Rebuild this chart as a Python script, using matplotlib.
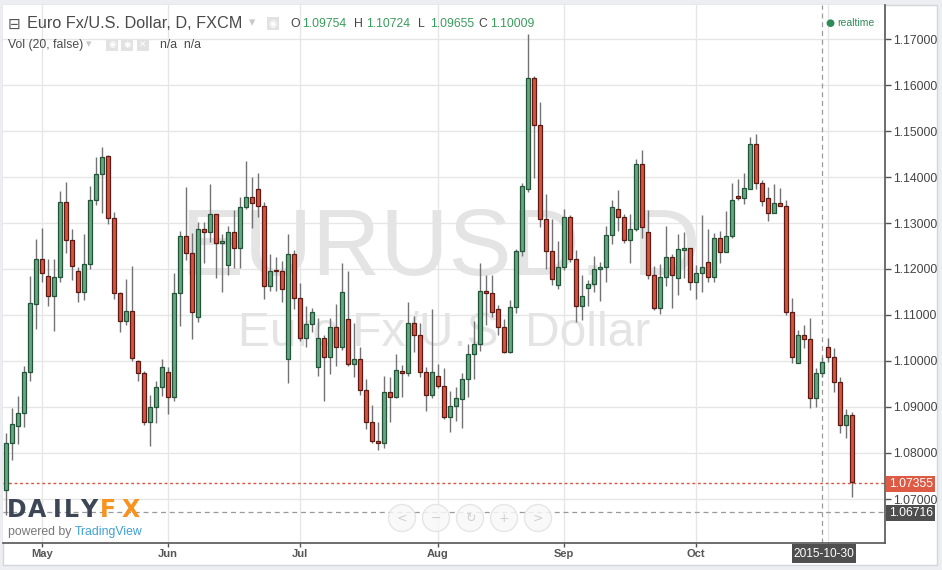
import numpy as np
import pandas as pd
import matplotlib.pyplot as plt
from matplotlib.patches import Rectangle, Ellipse

# daily EUR/USD candles, 2015-04-23 .. 2015-11-06
opens = [1.0720, 1.0821, 1.0859, 1.0886, 1.0977, 1.1125, 1.1221, 1.1185, 1.1142, 1.1182,
         1.1345, 1.1262, 1.1196, 1.1151, 1.1210, 1.1351, 1.1407, 1.1446, 1.1310, 1.1147,
         1.1088, 1.1108, 1.0999, 1.0975, 1.0867, 1.0899, 1.0943, 1.0975, 1.0921, 1.1147,
         1.1272, 1.1234, 1.1095, 1.1288, 1.1280, 1.1319, 1.1256, 1.1209, 1.1280, 1.1245,
         1.1334, 1.1356, 1.1373, 1.1336, 1.1164, 1.1197, 1.1196, 1.1004, 1.1232, 1.1138,
         1.1049, 1.1080, 1.0986, 1.1051, 1.1008, 1.1073, 1.1030, 1.1091, 1.0993, 1.1004,
         1.0938, 1.0867, 1.0826, 1.0821, 1.0932, 1.0922, 1.0979, 1.0975, 1.1082, 1.1057,
         1.0977, 1.0926, 1.0968, 1.0946, 1.0878, 1.0902, 1.0918, 1.0960, 1.1015, 1.1038,
         1.1152, 1.1147, 1.1112, 1.1073, 1.1020, 1.1117, 1.1239, 1.1375, 1.1615, 1.1512,
         1.1308, 1.1240, 1.1165, 1.1205, 1.1312, 1.1221, 1.1120, 1.1158, 1.1167, 1.1199,
         1.1204, 1.1275, 1.1330, 1.1314, 1.1264, 1.1286, 1.1428, 1.1280, 1.1186, 1.1116,
         1.1182, 1.1227, 1.1180, 1.1242, 1.1245, 1.1172, 1.1191, 1.1215, 1.1183, 1.1267,
         1.1236, 1.1272, 1.1358, 1.1355, 1.1375, 1.1471, 1.1386, 1.1354, 1.1321, 1.1343,
         1.1337, 1.1106, 1.0996, 1.1057, 1.1047, 1.0919, 1.0973, 1.1031, 1.1009, 1.0955,
         1.0861, 1.0883]
highs = [1.0844, 1.0897, 1.0924, 1.0989, 1.1185, 1.1265, 1.1289, 1.1222, 1.1222, 1.1370,
         1.1389, 1.1287, 1.1205, 1.1276, 1.1380, 1.1443, 1.1465, 1.1448, 1.1323, 1.1151,
         1.1178, 1.1207, 1.1002, 1.0979, 1.0926, 1.0957, 1.1004, 1.0986, 1.1192, 1.1283,
         1.1378, 1.1278, 1.1303, 1.1303, 1.1385, 1.1319, 1.1276, 1.1294, 1.1328, 1.1356,
         1.1435, 1.1399, 1.1409, 1.1345, 1.1233, 1.1227, 1.1217, 1.1276, 1.1241, 1.1170,
         1.1120, 1.1115, 1.1093, 1.1057, 1.1093, 1.1124, 1.1212, 1.1196, 1.1082, 1.1031,
         1.0960, 1.0904, 1.0868, 1.0967, 1.0966, 1.1015, 1.0991, 1.1129, 1.1098, 1.1082,
         1.0988, 1.1112, 1.0993, 1.0984, 1.0935, 1.0943, 1.0975, 1.1038, 1.1087, 1.1214,
         1.1187, 1.1187, 1.1122, 1.1091, 1.1133, 1.1243, 1.1386, 1.1710, 1.1620, 1.1562,
         1.1363, 1.1309, 1.1261, 1.1330, 1.1317, 1.1241, 1.1187, 1.1176, 1.1228, 1.1216,
         1.1294, 1.1350, 1.1372, 1.1320, 1.1320, 1.1439, 1.1459, 1.1328, 1.1207, 1.1211,
         1.1293, 1.1232, 1.1276, 1.1280, 1.1245, 1.1209, 1.1317, 1.1287, 1.1279, 1.1283,
         1.1326, 1.1386, 1.1396, 1.1409, 1.1486, 1.1493, 1.1393, 1.1378, 1.1385, 1.1377,
         1.1350, 1.1136, 1.1067, 1.1078, 1.1093, 1.0984, 1.1009, 1.1049, 1.1028, 1.0966,
         1.0895, 1.0890]
lows = [1.0665, 1.0785, 1.0819, 1.0857, 1.0957, 1.1070, 1.1172, 1.1120, 1.1066, 1.1172,
        1.1235, 1.1176, 1.1129, 1.1133, 1.1200, 1.1339, 1.1322, 1.1298, 1.1134, 1.1062,
        1.1078, 1.1001, 1.0957, 1.0861, 1.0816, 1.0865, 1.0924, 1.0885, 1.0914, 1.1077,
        1.1220, 1.1048, 1.1084, 1.1212, 1.1259, 1.1181, 1.1151, 1.1187, 1.1203, 1.1203,
        1.1330, 1.1290, 1.1312, 1.1134, 1.1153, 1.1153, 1.1129, 1.0953, 1.1112, 1.1044,
        1.1031, 1.1064, 1.0967, 1.0914, 1.0972, 1.0989, 1.1025, 1.0989, 1.0965, 1.0926,
        1.0852, 1.0821, 1.0807, 1.0810, 1.0868, 1.0919, 1.0922, 1.0967, 1.1020, 1.0966,
        1.0892, 1.0919, 1.0941, 1.0873, 1.0846, 1.0870, 1.0854, 1.0922, 1.0960, 1.1022,
        1.1078, 1.1096, 1.1057, 1.1017, 1.1017, 1.1105, 1.1228, 1.1368, 1.1397, 1.1291,
        1.1200, 1.1165, 1.1156, 1.1198, 1.1216, 1.1085, 1.1089, 1.1120, 1.1151, 1.1131,
        1.1171, 1.1254, 1.1283, 1.1256, 1.1214, 1.1283, 1.1268, 1.1178, 1.1111, 1.1102,
        1.1163, 1.1115, 1.1143, 1.1180, 1.1154, 1.1135, 1.1151, 1.1172, 1.1172, 1.1212,
        1.1236, 1.1268, 1.1351, 1.1341, 1.1373, 1.1373, 1.1336, 1.1305, 1.1321, 1.1336,
        1.1100, 1.0996, 1.0996, 1.1028, 1.0897, 1.0901, 1.0966, 1.0998, 1.0933, 1.0843,
        1.0832, 1.0705]
closes = [1.0821, 1.0862, 1.0886, 1.0977, 1.1125, 1.1221, 1.1191, 1.1142, 1.1182, 1.1345,
          1.1262, 1.1207, 1.1151, 1.1210, 1.1351, 1.1407, 1.1443, 1.1310, 1.1147, 1.1088,
          1.1108, 1.1006, 1.0975, 1.0867, 1.0899, 1.0943, 1.0988, 1.0921, 1.1147, 1.1272,
          1.1234, 1.1106, 1.1288, 1.1280, 1.1319, 1.1256, 1.1260, 1.1280, 1.1245, 1.1334,
          1.1356, 1.1343, 1.1336, 1.1164, 1.1196, 1.1195, 1.1156, 1.1232, 1.1138, 1.1049,
          1.1080, 1.1106, 1.1051, 1.1008, 1.1073, 1.1030, 1.1151, 1.0993, 1.1004, 1.0938,
          1.0867, 1.0826, 1.0821, 1.0932, 1.0922, 1.0980, 1.0973, 1.1082, 1.1057, 1.0977,
          1.0926, 1.0977, 1.0946, 1.0878, 1.0902, 1.0919, 1.0960, 1.1015, 1.1038, 1.1152,
          1.1147, 1.1106, 1.1073, 1.1020, 1.1117, 1.1239, 1.1380, 1.1615, 1.1512, 1.1308,
          1.1240, 1.1178, 1.1205, 1.1312, 1.1221, 1.1120, 1.1142, 1.1167, 1.1199, 1.1204,
          1.1275, 1.1334, 1.1314, 1.1264, 1.1286, 1.1428, 1.1292, 1.1186, 1.1116, 1.1182,
          1.1227, 1.1188, 1.1243, 1.1245, 1.1172, 1.1191, 1.1204, 1.1183, 1.1267, 1.1236,
          1.1272, 1.1351, 1.1355, 1.1375, 1.1471, 1.1386, 1.1348, 1.1321, 1.1343, 1.1336,
          1.1106, 1.1009, 1.1057, 1.1047, 1.0919, 1.0973, 1.0998, 1.1009, 1.0955, 1.0861,
          1.0883, 1.0736]

price_ticks = [1.07, 1.08, 1.09, 1.10, 1.11, 1.12, 1.13, 1.14, 1.15, 1.16, 1.17]
last_price = 1.07355
cross_price = 1.06716
cross_date = '2015-10-30'
ohlc_header = ['1.09754', '1.10724', '1.09655', '1.10009']

dates = pd.bdate_range('2015-04-23', periods=len(opens))
o = np.array(opens); h = np.array(highs); l = np.array(lows); c = np.array(closes)
x = np.arange(len(o))
up = c >= o

W, H = 942, 570
fig = plt.figure(figsize=(W / 100, H / 100), dpi=100, facecolor='#eceef1')
plt.rcParams['font.family'] = ['Liberation Sans', 'DejaVu Sans']


def fx(px):
    return px / W


def fy(py):
    return 1 - py / H


fig.add_artist(Rectangle((fx(3), fy(565)), fx(934), 560 / H, transform=fig.transFigure,
                         facecolor='white', edgecolor='#d3d6db', lw=1, zorder=-5))

ax = fig.add_axes([fx(3), fy(543), fx(882), 538 / H])
ax.set_facecolor('white')
ax.set_axisbelow(True)

# y scale: 1.07 at y=499 px, 46 px per 0.01
ax.set_ylim(1.07 + (499 - 543) / 4600, 1.07 + (499 - 5) / 4600)
ax.set_xlim(-0.5, 146.5)

# candles
wick_col = '#737375'
ax.vlines(x, l, h, color=wick_col, lw=1, zorder=2)
body_lo = np.minimum(o, c)
body_h = np.maximum(np.abs(c - o), 0.00004)
ax.bar(x[up], body_h[up], bottom=body_lo[up], width=0.72, color='#6ba583',
       edgecolor='#225437', lw=0.9, zorder=3)
ax.bar(x[~up], body_h[~up], bottom=body_lo[~up], width=0.72, color='#d75442',
       edgecolor='#5b1a13', lw=0.9, zorder=3)

# month ticks at first trading day (Nov label sits under the date box)
month_pos, month_lab = [], []
for m in range(5, 12):
    idx = np.where(dates.month == m)[0]
    if len(idx):
        month_pos.append(idx[0])
        month_lab.append(dates[idx[0]].strftime('%b') if m < 11 else '')
ax.set_xticks(month_pos)
ax.set_xticklabels(month_lab, fontsize=8, fontweight='bold', color='#555555')
ax.set_yticks(price_ticks)
ax.set_yticklabels([f'{p:.5f}' for p in price_ticks], fontsize=8.8, color='#444444')
ax.yaxis.tick_right()
ax.tick_params(axis='y', direction='out', length=4, width=1, color='#555555', pad=1.5)
ax.tick_params(axis='x', direction='out', length=3, width=1, color='#555555', pad=1)
ax.grid(True, color='#e6e6e6', lw=1)
for s in ['top', 'left']:
    ax.spines[s].set_visible(False)
for s in ['right', 'bottom']:
    ax.spines[s].set_color('#555555')
    ax.spines[s].set_linewidth(1.2)

# price lines and crosshair
ax.axhline(last_price, color='#d9533f', lw=1, ls=(0, (2, 2)), zorder=1.5)
ax.axhline(cross_price, color='#9a9a9a', lw=0.9, ls=(0, (4, 3)), zorder=1.5)
cross_x = int(np.where(dates == pd.Timestamp(cross_date))[0][0])
ax.axvline(cross_x, color='#9a9a9a', lw=0.9, ls=(0, (4, 3)), zorder=1.5)

# watermark
ax.text(fx(441), fy(275), 'EURUSD, D', transform=fig.transFigure, ha='center',
        va='baseline', fontsize=68, color='#e4e4e4', zorder=1)
ax.text(fx(444), fy(346), 'Euro Fx/U.S. Dollar', transform=fig.transFigure,
        ha='center', va='baseline', fontsize=34.5, color='#e4e4e4', zorder=1)

# right side boxes
def axis_box(py, text, fc):
    fig.add_artist(Rectangle((fx(886), fy(py + 8)), fx(49), 16 / H, transform=fig.transFigure,
                             facecolor=fc, edgecolor='none', zorder=4))
    fig.text(fx(889), fy(py), text, ha='left', va='center', fontsize=8.8, color='white', zorder=5)


axis_box(484, f'{last_price:.5f}', '#dd5a45')
axis_box(513, f'{cross_price:.5f}', '#4e4e4e')
fig.add_artist(Rectangle((fx(792), fy(563)), fx(64), 19 / H, transform=fig.transFigure,
                         facecolor='#4e4e4e', edgecolor='none', zorder=4))
fig.text(fx(824), fy(554), cross_date, ha='center', va='center', fontsize=8.6, color='white', zorder=5)

# header
fig.text(fx(8), fy(24), '\u229f', fontsize=11, color='#555555', va='center', family='DejaVu Sans')
fig.text(fx(27), fy(24), 'Euro Fx/U.S. Dollar, D, FXCM', fontsize=11.7, color='#4a4a4a', va='center')
fig.text(fx(249), fy(23), '\u25be', fontsize=9, color='#c8c8c8', va='center', family='DejaVu Sans')
fig.add_artist(Rectangle((fx(267), fy(30)), fx(12), 13 / H, transform=fig.transFigure,
                         facecolor='#e2e2e2', edgecolor='none'))
fig.text(fx(273), fy(23.5), '\u25c9', fontsize=7, color='white', va='center', ha='center',
         family='DejaVu Sans')
xs = [290, 354, 418, 478]
letters = ['O', 'H', 'L', 'C']
for xx, let, val in zip(xs, letters, ohlc_header):
    fig.text(fx(xx), fy(24), let, fontsize=8.8, color='#444444', va='center')
    fig.text(fx(xx + 12), fy(24), val, fontsize=8.8, color='#3b9b5d', va='center')

fig.text(fx(8), fy(45), 'Vol (20, false)', fontsize=8.8, color='#4a4a4a', va='center')
fig.text(fx(86), fy(44.5), '\u25be', fontsize=8, color='#c8c8c8', va='center', family='DejaVu Sans')
for bx, sym in zip([106, 121, 137], ['\u25c9', '\u2731', '\u2715']):
    fig.add_artist(Rectangle((fx(bx), fy(51)), fx(12), 12 / H, transform=fig.transFigure,
                             facecolor='#e2e2e2', edgecolor='none'))
    fig.text(fx(bx + 6), fy(45), sym, fontsize=6.5, color='white', va='center', ha='center',
             family='DejaVu Sans')
fig.text(fx(160), fy(45), 'n/a  n/a', fontsize=8.8, color='#4a4a4a', va='center')

fig.text(fx(830), fy(23), '\u25cf', fontsize=7.5, color='#2e8b57', va='center', ha='center',
         family='DejaVu Sans')
fig.text(fx(837), fy(23), 'realtime', fontsize=7.5, color='#2e8b57', va='center')

# DailyFX logo, letter by letter
logo_x = [16.5, 37.5, 57, 71.5, 88.5, 107.5, 130.5]
for lx, ch in zip(logo_x, 'DAILYFX'):
    col = '#f7931e' if ch in 'FX' else '#3c4654'
    fig.text(fx(lx), fy(517), ch, fontsize=17, fontweight='bold', color=col,
             ha='center', va='baseline', family='DejaVu Sans')
fig.text(fx(8), fy(535), 'powered by', fontsize=8.8, color='#777777', va='baseline')
fig.text(fx(75), fy(535), 'TradingView', fontsize=8.8, color='#3fa0d6', va='baseline')

# zoom controls
for cx, sym in zip([402, 436, 470, 504, 538], ['<', '\u2212', '\u21bb', '+', '>']):
    fig.add_artist(Ellipse((fx(cx), fy(518)), 27 / W, 27 / H, transform=fig.transFigure,
                           facecolor='#f8f8f8', edgecolor='#e2e2e2', lw=1, alpha=0.85))
    fig.text(fx(cx), fy(518), sym, fontsize=9, color='#d0d0d0', ha='center', va='center',
             family='DejaVu Sans')

fig.savefig('out.png', dpi=100, facecolor=fig.get_facecolor())
